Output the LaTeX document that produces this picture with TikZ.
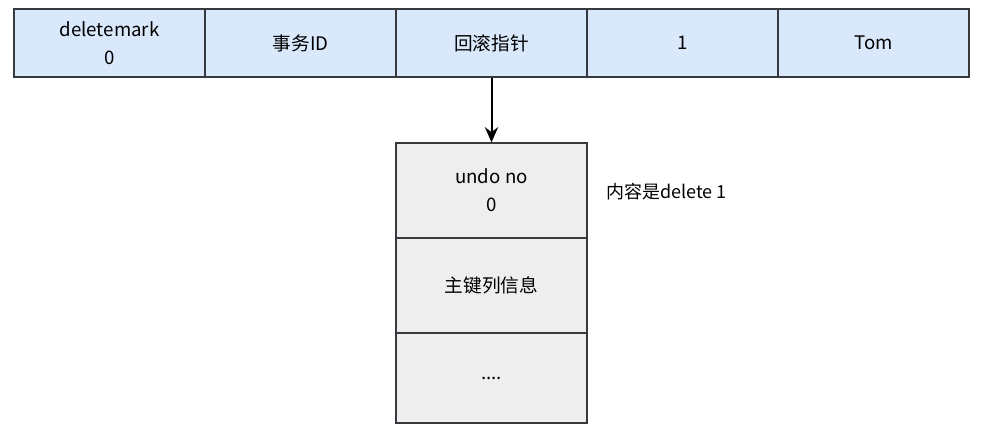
\documentclass[tikz,border=0pt]{standalone}
\usepackage{fontspec}
\setmainfont{Liberation Sans}
\newfontfamily\cjk{Noto Sans CJK SC}
\usetikzlibrary{positioning}
\usetikzlibrary{arrows.meta}
\definecolor{rowblue}{HTML}{DAE8FC}
\definecolor{undogray}{HTML}{EEEEEE}
\definecolor{edgegray}{HTML}{36393D}
\tikzset{recfield/.style={rectangle,draw=edgegray,fill=rowblue,line width=1pt,
inner sep=2pt,minimum height=51pt, minimum width=143.25pt,align=center,font=\cjk\fontsize{14}{21}\selectfont}}
\tikzset{undofield/.style={rectangle,draw=edgegray,fill=undogray,line width=1pt,
inner sep=2pt,minimum height=71.25pt, minimum width=143.25pt,align=center,font=\cjk\fontsize{14}{21}\selectfont}}
\begin{document}
\begin{tikzpicture}[x=0.75pt,y=-0.75pt]
        \useasboundingbox (0,0) rectangle (985,427);

        \node[recfield] (fieldA) at (109.5, 43) {deletemark\\0};
        \node[recfield] (fieldB) [right=-1pt of fieldA] {事务ID};
        \node[recfield] (fieldC) [right=-1pt of fieldB] {回滚指针};
        \node[recfield] (fieldD) [right=-1pt of fieldC] {1};
        \node[recfield] (fieldE) [right=-1pt of fieldD] {Tom};

        \node[undofield] (undoA) at (491.5, 190.5) {undo no\\0};
        \node[undofield] (undoB) [below=-1pt of undoA] {主键列信息};
        \node[undofield,minimum height=67.5pt] (undoC) [below=-1pt of undoB] {....};

        \node[anchor=west,font=\cjk\fontsize{13.5}{16}\selectfont,inner sep=0pt] (undonote) at (606, 192) {内容是delete 1};

        \draw [line width=1.5pt,-{Stealth[length=4mm,width=3.5mm]}] (fieldC.south)  -- (undoA.north);

    \end{tikzpicture}
\end{document}
